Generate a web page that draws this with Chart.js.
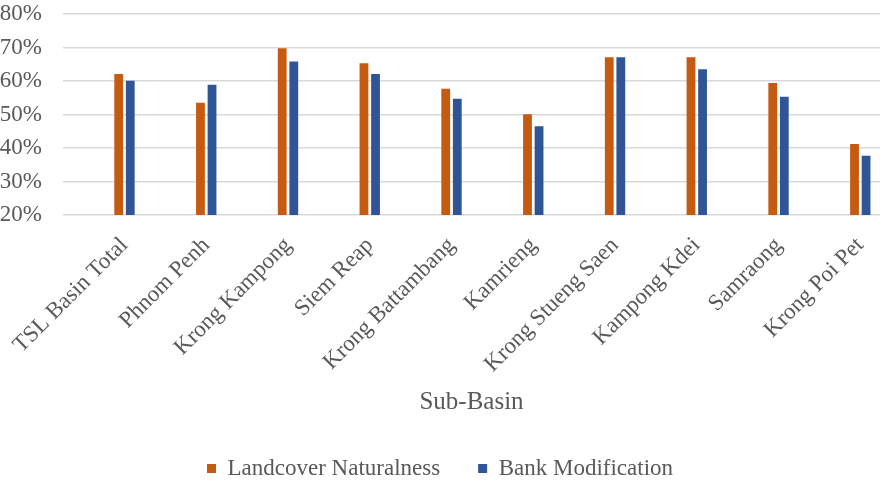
<!DOCTYPE html>
<html>
<head>
<meta charset="utf-8">
<script src="https://cdn.jsdelivr.net/npm/chart.js@4/dist/chart.umd.min.js"></script>
<style>
  html, body { margin: 0; padding: 0; background: #ffffff; }
  #wrap { width: 883px; height: 483px; position: relative; }
</style>
</head>
<body>
<div id="wrap"><canvas id="c"></canvas></div>
<script>
const categories = ['TSL Basin Total', 'Phnom Penh', 'Krong Kampong', 'Siem Reap', 'Krong Battambang', 'Kamrieng', 'Krong Stueng Saen', 'Kampong Kdei', 'Samraong', 'Krong Poi Pet'];
const landcoverNaturalness = [62.1, 53.5, 69.8, 65.3, 57.7, 50.1, 67.1, 67.1, 59.4, 41.2];
const bankModification = [60.1, 58.9, 65.8, 62.1, 54.7, 46.5, 67.1, 63.5, 55.3, 37.7];
const yMin = 20, yMax = 80, yStep = 10;
const seriesNames = ['Landcover Naturalness', 'Bank Modification'];
const xTitle = 'Sub-Basin';

const FONT = "'Liberation Serif', 'Times New Roman', serif";
const TEXT = '#595959';

const toPoints = arr => arr.map((v, i) => ({ x: i, y: v }));

new Chart(document.getElementById('c'), {
  type: 'bar',
  data: {
    datasets: [
      { label: seriesNames[0], data: toPoints(landcoverNaturalness), backgroundColor: '#C55A11', borderWidth: 0 },
      { label: seriesNames[1], data: toPoints(bankModification), backgroundColor: '#2F5597', borderWidth: 0 }
    ]
  },
  options: {
    responsive: true,
    maintainAspectRatio: false,
    animation: false,
    datasets: { bar: { categoryPercentage: 0.283, barPercentage: 0.76, grouped: true } },
    layout: { padding: { left: 0, right: 3, top: 14, bottom: 0 } },
    plugins: {
      tooltip: { enabled: false },
      legend: {
        position: 'bottom',
        maxHeight: 64,
        labels: {
          font: { family: FONT, size: 23 },
          color: TEXT,
          boxWidth: 9,
          boxHeight: 9,
          padding: 38
        }
      }
    },
    scales: {
      x: {
        type: 'linear',
        offset: false,
        min: -0.752,
        max: 9.241,
        afterFit: s => { s.paddingLeft = 0; s.paddingRight = 0; },
        grid: { display: false, offset: false },
        border: { display: false },
        ticks: {
          stepSize: 1,
          includeBounds: false,
          autoSkip: false,
          minRotation: 45,
          maxRotation: 45,
          padding: 9,
          color: TEXT,
          font: { family: FONT, size: 23 },
          callback: v => (Number.isInteger(v) && categories[v] !== undefined) ? categories[v] : ''
        },
        title: {
          display: true,
          text: xTitle,
          color: TEXT,
          font: { family: FONT, size: 25 },
          padding: { top: 0, bottom: 2 }
        }
      },
      y: {
        min: yMin,
        max: yMax,
        afterFit: s => { s.width = 63; s.paddingTop = 0; s.paddingBottom = 0; },
        grid: { color: '#D9D9D9', lineWidth: 1.5, drawTicks: false },
        border: { display: false },
        ticks: {
          stepSize: yStep,
          autoSkip: false,
          padding: 21,
          color: TEXT,
          font: { family: FONT, size: 23 },
          callback: v => v + '%'
        }
      }
    }
  }
});
</script>
</body>
</html>
